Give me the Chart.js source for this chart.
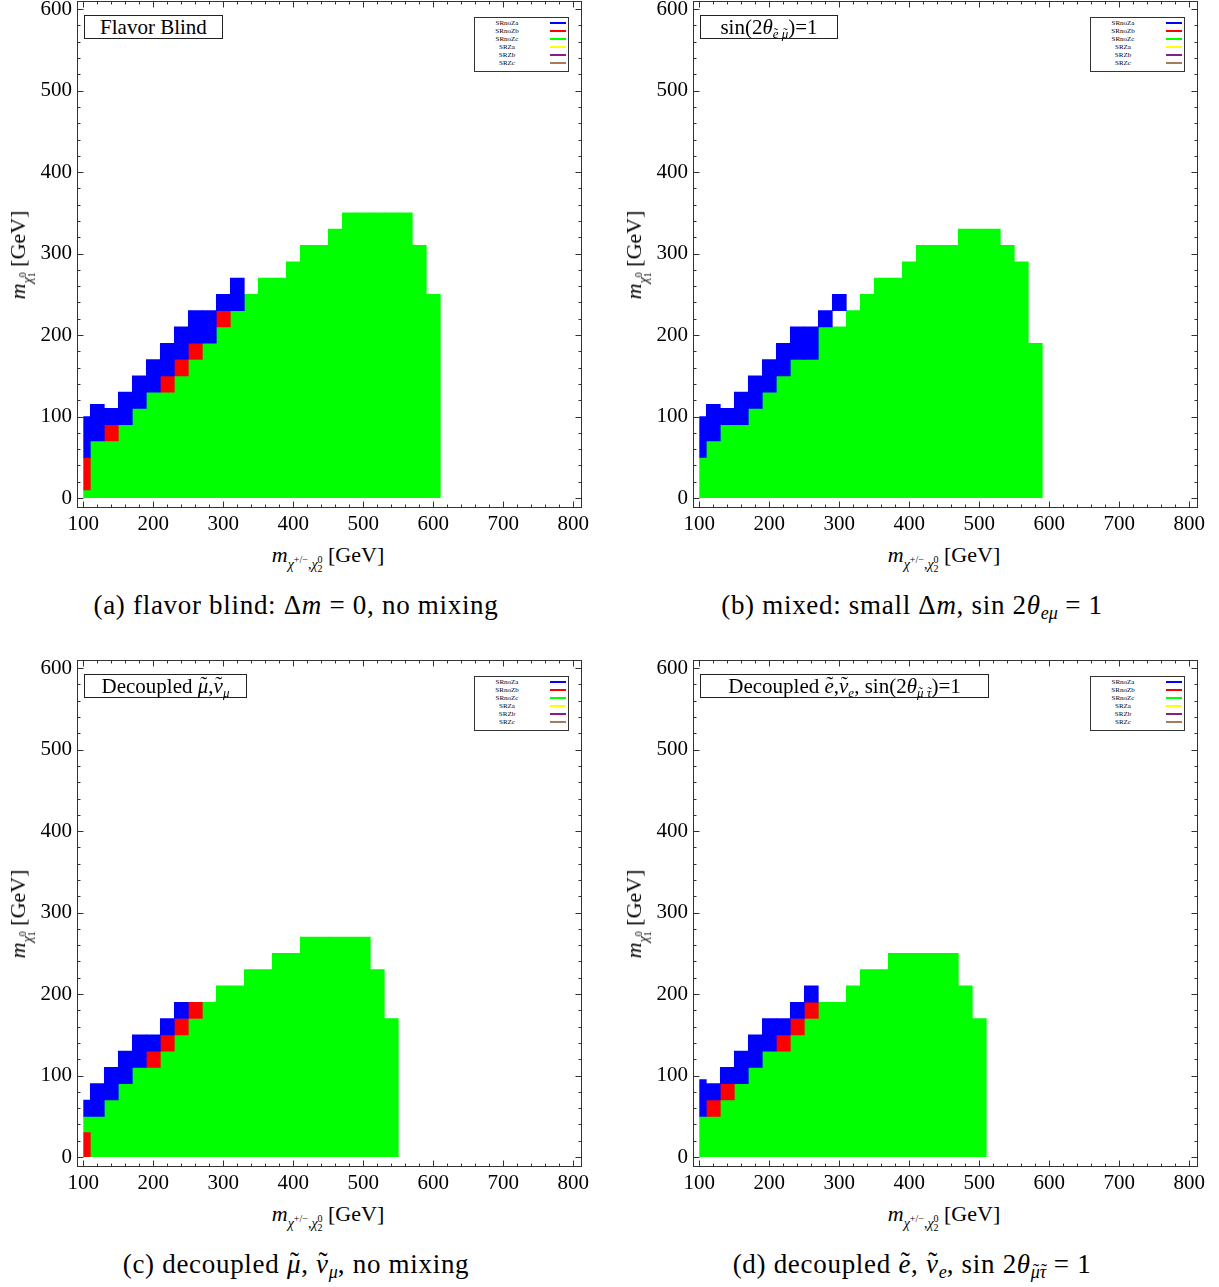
<!DOCTYPE html>
<html>
<head>
<meta charset="utf-8">
<script src="https://cdn.jsdelivr.net/npm/chart.js@4.4.1/dist/chart.umd.min.js"></script>
<style>
html,body{margin:0;padding:0;background:#fff;}
body{width:1219px;height:1287px;position:relative;overflow:hidden;font-family:"Liberation Serif","Times New Roman",serif;color:#000;}
.panel{position:absolute;width:612px;height:628px;}
.panel canvas{position:absolute;left:0;top:0;}
.inset{position:absolute;left:84px;top:15px;height:24px;box-sizing:border-box;border:1px solid #222;background:#fff;font-size:21px;line-height:22px;text-align:center;white-space:nowrap;}
.inset sub{font-size:13px;vertical-align:-4px;line-height:0;}
.legend{position:absolute;left:474px;top:17px;width:95px;height:55px;box-sizing:border-box;border:1px solid #333;background:#fff;}
.legend .lab{position:absolute;left:0;width:64px;text-align:center;font-size:7px;line-height:8px;color:#000;}
.legend .ln{position:absolute;left:75px;width:16px;height:2px;}
.xtitle{position:absolute;left:0;width:656px;top:542px;height:26px;line-height:26px;text-align:center;font-size:22px;white-space:nowrap;}
.ytitle{position:absolute;left:20px;top:255px;transform:translate(-50%,-50%) rotate(-90deg);font-size:22px;white-space:nowrap;line-height:26px;}
.caption{position:absolute;left:0;width:592px;top:588px;height:34px;line-height:34px;text-align:center;font-size:27px;letter-spacing:0.7px;white-space:nowrap;}
.caption sub{font-size:18px;vertical-align:-5px;line-height:0;letter-spacing:0;}
.sb{font-size:14px;position:relative;top:7px;}
.up{font-size:10px;position:relative;top:-6px;}
.dn{font-size:10px;position:relative;top:3px;}
.acc{position:relative;display:inline-block;}
.acc .t{position:absolute;left:0.06em;right:0;top:-0.08em;text-align:center;font-style:normal;}
</style>
</head>
<body>

<div class="panel" id="panelA" style="left:0px;top:0px;">
  <canvas id="ca" width="600" height="540"></canvas>
  <div class="inset" style="width:139px;">Flavor Blind</div>
  <div class="legend"></div>
  <div class="xtitle"><i>m</i><span class="sb"><i>χ</i><span class="up">+/−</span>,<i>χ</i><span class="dn">2</span><span class="up" style="margin-left:-5px">0</span></span> [GeV]</div>
  <div class="ytitle"><i>m</i><span class="sb"><i>χ</i><span class="dn">1</span><span class="up" style="margin-left:-5px">0</span></span> [GeV]</div>
  <div class="caption">(a) flavor blind: Δ<i>m</i> = 0, no mixing</div>
</div>

<div class="panel" id="panelB" style="left:616px;top:0px;">
  <canvas id="cb" width="600" height="540"></canvas>
  <div class="inset" style="width:138px;">sin(2<i>θ</i><sub><span class="acc"><i>e</i><span class="t">˜</span></span> <span class="acc"><i>μ</i><span class="t">˜</span></span></sub>)=1</div>
  <div class="legend"></div>
  <div class="xtitle"><i>m</i><span class="sb"><i>χ</i><span class="up">+/−</span>,<i>χ</i><span class="dn">2</span><span class="up" style="margin-left:-5px">0</span></span> [GeV]</div>
  <div class="ytitle"><i>m</i><span class="sb"><i>χ</i><span class="dn">1</span><span class="up" style="margin-left:-5px">0</span></span> [GeV]</div>
  <div class="caption">(b) mixed: small Δ<i>m</i>, sin 2<i>θ</i><sub><i>eμ</i></sub> = 1</div>
</div>

<div class="panel" id="panelC" style="left:0px;top:659px;">
  <canvas id="cc" width="600" height="540"></canvas>
  <div class="inset" style="width:163px;">Decoupled <span class="acc"><i>μ</i><span class="t">˜</span></span>,<span class="acc"><i>ν</i><span class="t">˜</span></span><sub><i>μ</i></sub></div>
  <div class="legend"></div>
  <div class="xtitle"><i>m</i><span class="sb"><i>χ</i><span class="up">+/−</span>,<i>χ</i><span class="dn">2</span><span class="up" style="margin-left:-5px">0</span></span> [GeV]</div>
  <div class="ytitle"><i>m</i><span class="sb"><i>χ</i><span class="dn">1</span><span class="up" style="margin-left:-5px">0</span></span> [GeV]</div>
  <div class="caption">(c) decoupled <span class="acc"><i>μ</i><span class="t">˜</span></span>, <span class="acc"><i>ν</i><span class="t">˜</span></span><sub><i>μ</i></sub>, no mixing</div>
</div>

<div class="panel" id="panelD" style="left:616px;top:659px;">
  <canvas id="cd" width="600" height="540"></canvas>
  <div class="inset" style="width:289px;">Decoupled <span class="acc"><i>e</i><span class="t">˜</span></span>,<span class="acc"><i>ν</i><span class="t">˜</span></span><sub><i>e</i></sub>, sin(2<i>θ</i><sub><span class="acc"><i>μ</i><span class="t">˜</span></span> <span class="acc"><i>τ</i><span class="t">˜</span></span></sub>)=1</div>
  <div class="legend"></div>
  <div class="xtitle"><i>m</i><span class="sb"><i>χ</i><span class="up">+/−</span>,<i>χ</i><span class="dn">2</span><span class="up" style="margin-left:-5px">0</span></span> [GeV]</div>
  <div class="ytitle"><i>m</i><span class="sb"><i>χ</i><span class="dn">1</span><span class="up" style="margin-left:-5px">0</span></span> [GeV]</div>
  <div class="caption">(d) decoupled <span class="acc"><i>e</i><span class="t">˜</span></span>, <span class="acc"><i>ν</i><span class="t">˜</span></span><sub><i>e</i></sub>, sin 2<i>θ</i><sub><span class="acc"><i>μ</i><span class="t">˜</span></span><span class="acc"><i>τ</i><span class="t">˜</span></span></sub> = 1</div>
</div>

<script>
// ---- axis ticks ----
const xTickValues = [100, 200, 300, 400, 500, 600, 700, 800];
const yTickValues = [0, 100, 200, 300, 400, 500, 600];
const minorStep = 20;

// ---- legend (signal regions) ----
const legendNames  = ['SRnoZa', 'SRnoZb', 'SRnoZc', 'SRZa', 'SRZb', 'SRZc'];
const legendColors = ['#0000ff', '#ff0000', '#00ff00', '#ffff00', '#8b1a8b', '#a57c5b'];

// ---- cells: [m_chi+-, low m_chi1, high m_chi1] (GeV) ----
// (a) flavor blind
const greenA = [[100,0,10],[120,0,70],[140,0,70],[160,0,90],[180,0,110],[200,0,130],[220,0,130],[240,0,150],[260,0,170],[280,0,190],[300,0,210],[320,0,230],[340,0,250],[360,0,270],[380,0,270],[400,0,290],[420,0,310],[440,0,310],[460,0,330],[480,0,350],[500,0,350],[520,0,350],[540,0,350],[560,0,350],[580,0,310],[600,0,250]];
const redA   = [[100,10,50],[140,70,90],[220,130,150],[240,150,170],[260,170,190],[300,210,230]];
const blueA  = [[100,50,100],[120,70,115],[140,90,110],[160,90,130],[180,110,150],[200,130,170],[220,150,190],[240,170,210],[260,190,230],[280,190,230],[300,230,250],[320,230,270]];

// (b) mixed
const greenB = [[100,0,50],[120,0,70],[140,0,90],[160,0,90],[180,0,110],[200,0,130],[220,0,150],[240,0,170],[260,0,170],[280,0,210],[300,0,210],[320,0,230],[340,0,250],[360,0,270],[380,0,270],[400,0,290],[420,0,310],[440,0,310],[460,0,310],[480,0,330],[500,0,330],[520,0,330],[540,0,310],[560,0,290],[580,0,190]];
const redB   = [];
const blueB  = [[100,50,100],[120,70,115],[140,90,110],[160,90,130],[180,110,150],[200,130,170],[220,150,190],[240,170,210],[260,170,210],[280,210,230],[300,230,250]];

// (c) decoupled smuon
const greenC = [[100,30,50],[120,0,50],[140,0,70],[160,0,90],[180,0,110],[200,0,110],[220,0,130],[240,0,150],[260,0,170],[280,0,190],[300,0,210],[320,0,210],[340,0,230],[360,0,230],[380,0,250],[400,0,250],[420,0,270],[440,0,270],[460,0,270],[480,0,270],[500,0,270],[520,0,230],[540,0,170]];
const redC   = [[100,0,30],[200,110,130],[220,130,150],[240,150,170],[260,170,190]];
const blueC  = [[100,50,70],[120,50,90],[140,70,110],[160,90,130],[180,110,150],[200,130,150],[220,150,170],[240,170,190]];

// (d) decoupled selectron
const greenD = [[100,0,50],[120,0,50],[140,0,70],[160,0,90],[180,0,110],[200,0,130],[220,0,130],[240,0,150],[260,0,170],[280,0,190],[300,0,190],[320,0,210],[340,0,230],[360,0,230],[380,0,250],[400,0,250],[420,0,250],[440,0,250],[460,0,250],[480,0,210],[500,0,170]];
const redD   = [[120,50,70],[140,70,90],[220,130,150],[240,150,170],[260,170,190]];
const blueD  = [[100,50,95],[120,70,90],[140,90,110],[160,90,130],[180,110,150],[200,130,170],[220,150,170],[240,170,190],[260,190,210]];

const panels = [
  {canvas: 'ca', panel: 'panelA', cells: {SRnoZa: blueA, SRnoZb: redA, SRnoZc: greenA}},
  {canvas: 'cb', panel: 'panelB', cells: {SRnoZa: blueB, SRnoZb: redB, SRnoZc: greenB}},
  {canvas: 'cc', panel: 'panelC', cells: {SRnoZa: blueC, SRnoZb: redC, SRnoZc: greenC}},
  {canvas: 'cd', panel: 'panelD', cells: {SRnoZa: blueD, SRnoZb: redD, SRnoZc: greenD}}
];

// clip the cells to the data domain (m >= first x tick, m_chi1 >= 0)
const dataClip = {
  id: 'dataClip',
  beforeDatasetsDraw(chart) {
    const {ctx, chartArea: a, scales: {x, y}} = chart;
    const left = x.getPixelForValue(xTickValues[0]);
    const bottom = y.getPixelForValue(yTickValues[0]);
    ctx.save();
    ctx.beginPath();
    ctx.rect(left, a.top, a.right - left, bottom - a.top);
    ctx.clip();
  },
  afterDatasetsDraw(chart) { chart.ctx.restore(); }
};

// Mathematica-style frame with inward ticks on all four sides
const frameTicks = {
  id: 'frameTicks',
  afterDraw(chart) {
    const {ctx, chartArea: a, scales: {x, y}} = chart;
    const L = Math.floor(a.left) + 0.5, R = Math.floor(a.right) + 0.5;
    const T = Math.floor(a.top) + 0.5, B = Math.floor(a.bottom) + 0.5;
    ctx.save();
    ctx.strokeStyle = '#333';
    ctx.lineWidth = 1;
    ctx.strokeRect(L, T, R - L, B - T);
    ctx.beginPath();
    for (let v = xTickValues[0]; v <= xTickValues[xTickValues.length - 1]; v += minorStep) {
      const len = (v % 100 === 0) ? 6 : 3;
      const px = Math.round(x.getPixelForValue(v)) + 0.5;
      ctx.moveTo(px, B); ctx.lineTo(px, B - len);
      ctx.moveTo(px, T); ctx.lineTo(px, T + len);
    }
    for (let v = yTickValues[0]; v <= yTickValues[yTickValues.length - 1]; v += minorStep) {
      const len = (v % 100 === 0) ? 6 : 3;
      const py = Math.round(y.getPixelForValue(v)) + 0.5;
      ctx.moveTo(L, py); ctx.lineTo(L + len, py);
      ctx.moveTo(R, py); ctx.lineTo(R - len, py);
    }
    ctx.stroke();
    ctx.restore();
  }
};

const tickFont = {family: "'Liberation Serif', 'Times New Roman', serif", size: 21};

panels.forEach(p => {
  const datasets = legendNames.map((name, i) => ({
    label: name,
    data: (p.cells[name] || []).map(c => ({x: c[0], y: [c[1], c[2]]})),
    backgroundColor: legendColors[i],
    borderWidth: 0,
    grouped: false,
    barPercentage: 1,
    categoryPercentage: 1
  }));

  new Chart(document.getElementById(p.canvas), {
    type: 'bar',
    data: {datasets},
    options: {
      responsive: false,
      animation: false,
      devicePixelRatio: 1,
      layout: {padding: {top: 1, right: 18.3, left: 0, bottom: 0}},
      plugins: {legend: {display: false}, tooltip: {enabled: false}},
      scales: {
        x: {
          type: 'linear', min: 91, max: 812, offset: false,
          afterBuildTicks: s => { s.ticks = xTickValues.map(v => ({value: v})); },
          afterFit: s => { s.height = 33; s.paddingLeft = 0; s.paddingRight = 0; },
          grid: {display: false, offset: false, drawTicks: false},
          border: {display: false},
          ticks: {font: tickFont, color: '#000', padding: 5, autoSkip: false, maxRotation: 0}
        },
        y: {
          type: 'linear', min: -11, max: 610,
          afterBuildTicks: s => { s.ticks = yTickValues.map(v => ({value: v})); },
          afterFit: s => { s.width = 77; s.paddingTop = 0; s.paddingBottom = 0; },
          grid: {display: false, drawTicks: false},
          border: {display: false},
          ticks: {font: tickFont, color: '#000', padding: 5}
        }
      }
    },
    plugins: [dataClip, frameTicks]
  });

  // legend box
  const lg = document.querySelector('#' + p.panel + ' .legend');
  legendNames.forEach((name, i) => {
    const top = 1 + i * 7.9;
    const lab = document.createElement('div');
    lab.className = 'lab';
    lab.style.top = top + 'px';
    lab.textContent = name;
    lg.appendChild(lab);
    const ln = document.createElement('div');
    ln.className = 'ln';
    ln.style.top = (top + 3) + 'px';
    ln.style.background = legendColors[i];
    lg.appendChild(ln);
  });
});
</script>
</body>
</html>
